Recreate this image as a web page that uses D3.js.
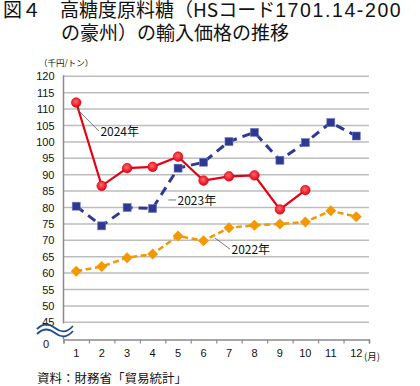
<!DOCTYPE html>
<html><head><meta charset="utf-8">
<script src="https://cdn.jsdelivr.net/npm/d3@7"></script>
<style>
html,body{margin:0;padding:0;background:#fff;}
svg{display:block;}
text{font-family:"Liberation Sans",Arial,"Noto Sans CJK JP",sans-serif;fill:#111;}
.jp{font-family:"Noto Sans CJK JP","Liberation Sans",sans-serif;}
</style></head>
<body>
<script>
const months = [1,2,3,4,5,6,7,8,9,10,11,12];
const yTicks = [45,50,55,60,65,70,75,80,85,90,95,100,105,110,115,120];
const v2022 = [60.6,62.0,64.7,65.8,71.3,69.9,73.8,74.6,75.0,75.6,79.0,77.2];
const v2023 = [80.4,74.4,80.0,79.7,92.0,93.8,100.1,102.9,94.4,99.8,105.9,101.8];
const v2024 = [112.0,86.6,92.0,92.4,95.5,88.2,89.5,89.8,79.4,85.3];
const titleParts = ["図４　高糖度原料糖（HSコード","1701.14-200"];
const titleLine2 = "の豪州）の輸入価格の推移";
const unitLabel = "（千円/トン）";
const monthUnit = "(月)";
const source = "資料：財務省「貿易統計」";
const annotations = [
  {label:"2024年", m1:1.07, v1:109.7, m2:1.89, v2:103.3},
  {label:"2023年", m1:4.62, v1:82.3, m2:4.92, v2:82.3},
  {label:"2022年", m1:6.45, v1:70.7, m2:7.04, v2:67.3}
];

const W=420,H=386;
const svg=d3.select("body").append("svg").attr("width",W).attr("height",H);

const x=d3.scaleLinear().domain([0.5,12.5]).range([63.5,369]);
const y=d3.scaleLinear().domain([45,120]).range([322.3,76.3]);
const axisY=339.5;

// title
const t1=svg.append("text").attr("class","jp").attr("x",3).attr("y",17).style("font-size","19px");
t1.append("tspan").text(titleParts[0]);
t1.append("tspan").style("font-family","'Liberation Sans',Arial,sans-serif").style("font-size","19.5px")
  .style("letter-spacing","1.6px").text(titleParts[1]);
svg.append("text").attr("class","jp").attr("x",61).attr("y",39.5).style("font-size","19px")
  .text(titleLine2);
svg.append("text").attr("class","jp").attr("x",39).attr("y",66).style("font-size","8.5px")
  .text(unitLabel);

// gridlines
svg.append("g").selectAll("line").data(yTicks).join("line")
  .attr("x1",x(0.5)).attr("x2",x(12.5))
  .attr("y1",d=>y(d)).attr("y2",d=>y(d))
  .attr("stroke","#bdbdbd").attr("stroke-width",1.5);

// y axis labels
svg.append("g").selectAll("text").data(yTicks).join("text")
  .attr("x",54.5).attr("y",d=>y(d)+4).attr("text-anchor","end")
  .style("font-size","11px").text(d=>d);
svg.append("text").attr("x",49).attr("y",axisY+8).attr("text-anchor","end")
  .style("font-size","11px").text("0");

// y axis line
svg.append("line").attr("x1",x(0.5)).attr("x2",x(0.5)).attr("y1",y(120)-1).attr("y2",axisY)
  .attr("stroke","#8c8c8c").attr("stroke-width",1.5);

// x axis
const xa=d3.axisBottom(x).tickValues(d3.range(0.5,12.6,1)).tickSize(4).tickFormat("");
const gx=svg.append("g").attr("transform",`translate(0,${axisY})`).call(xa);
gx.select(".domain").attr("stroke","#8c8c8c").attr("stroke-width",1.5);
gx.selectAll(".tick line").attr("stroke","#8c8c8c").attr("stroke-width",1.2);
svg.append("g").selectAll("text").data(months).join("text")
  .attr("x",d=>x(d)).attr("y",357).attr("text-anchor","middle")
  .style("font-size","11px").text(d=>d);
svg.append("text").attr("class","jp").attr("x",364).attr("y",360).style("font-size","9.5px").text(monthUnit);

// axis break
const brk=svg.append("g");
brk.append("rect").attr("x",56).attr("y",323.5).attr("width",14).attr("height",13).attr("fill","#fff");
[0,5].forEach(o=>{
  brk.append("path")
    .attr("d",`M37,${329+o} C44,${322+o} 50,${324+o} 55,${328+o} S66,${334+o} 73,${326+o}`)
    .attr("fill","none").attr("stroke","#1f4e8c").attr("stroke-width",1.8);
});

// gradient for circles
const defs=svg.append("defs");
const rg=defs.append("radialGradient").attr("id","rg").attr("cx","45%").attr("cy","40%").attr("r","60%");
rg.append("stop").attr("offset","0%").attr("stop-color","#ff6a6a");
rg.append("stop").attr("offset","100%").attr("stop-color","#e60012");

const line=d3.line().x((d,i)=>x(i+1)).y(d=>y(d));

// 2022
svg.append("path").datum(v2022).attr("d",line).attr("fill","none")
  .attr("stroke","#f39800").attr("stroke-width",2.5).attr("stroke-dasharray","6,3.5");
svg.append("g").selectAll("path").data(v2022).join("path")
  .attr("d","M0,-5.5 L5.5,0 L0,5.5 L-5.5,0Z")
  .attr("transform",(d,i)=>`translate(${x(i+1)},${y(d)})`)
  .attr("fill","#f39800");

// 2023
svg.append("path").datum(v2023).attr("d",line).attr("fill","none")
  .attr("stroke","#2e3a92").attr("stroke-width",3).attr("stroke-dasharray","9,6");
svg.append("g").selectAll("rect").data(v2023).join("rect")
  .attr("x",(d,i)=>x(i+1)-4).attr("y",d=>y(d)-4).attr("width",8).attr("height",8)
  .attr("fill","#2e3a92").attr("stroke","#6f78c0").attr("stroke-width",0.6);

// 2024
svg.append("path").datum(v2024).attr("d",line).attr("fill","none")
  .attr("stroke","#e60012").attr("stroke-width",2.2);
svg.append("g").selectAll("circle").data(v2024).join("circle")
  .attr("cx",(d,i)=>x(i+1)).attr("cy",d=>y(d)).attr("r",4.8)
  .attr("fill","url(#rg)").attr("stroke","#d40010").attr("stroke-width",0.6);

// annotations
const ag=svg.append("g");
annotations.forEach(a=>{
  ag.append("line").attr("x1",x(a.m1)).attr("y1",y(a.v1)).attr("x2",x(a.m2)).attr("y2",y(a.v2))
    .attr("stroke","#555").attr("stroke-width",0.8);
  ag.append("text").attr("class","jp").attr("x",x(a.m2)+1.5).attr("y",y(a.v2)+5)
    .style("font-size","12px").text(a.label);
});

// source
svg.append("text").attr("class","jp").attr("x",37).attr("y",383).style("font-size","12.5px").text(source);
</script>
</body></html>
